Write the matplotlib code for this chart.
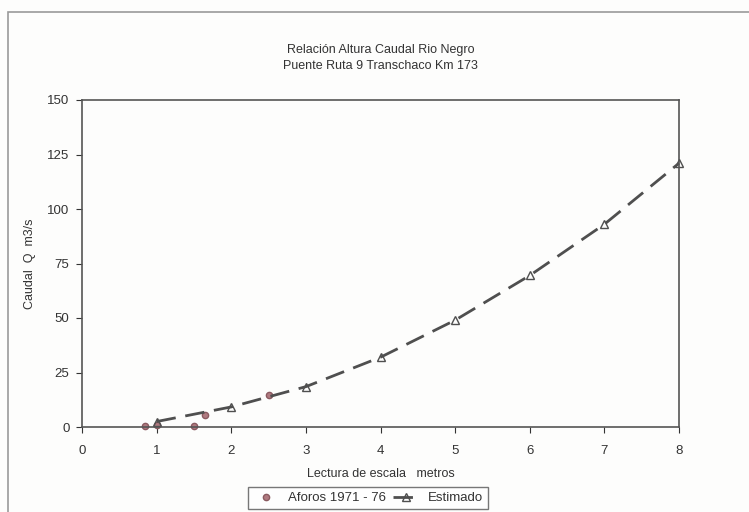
import matplotlib.pyplot as plt
from matplotlib.patches import Rectangle

# Data
aforos_x = [0.85, 1.0, 1.5, 1.65, 2.5]
aforos_q = [0.5, 0.7, 0.4, 5.5, 14.5]

est_x = [1, 2, 3, 4, 5, 6, 7, 8]
est_q = [2.5, 9.2, 18.5, 32, 49, 69.5, 93, 121]

x_ticks = [0, 1, 2, 3, 4, 5, 6, 7, 8]
y_ticks = [0, 25, 50, 75, 100, 125, 150]

plt.rcParams['font.family'] = ['Liberation Sans', 'DejaVu Sans']

fig = plt.figure(figsize=(7.49, 5.12), dpi=100)
fig.patch.set_facecolor('#fdfdfc')

# outer chart frame
fig.add_artist(Rectangle((8 / 749, -0.05), 1.0, 1 - 12 / 512 + 0.05,
                         transform=fig.transFigure, fill=False,
                         edgecolor='#9a9a9a', linewidth=1.2))

ax = fig.add_axes([82 / 749, 1 - 427 / 512, (679 - 82) / 749, (427 - 100) / 512])
ax.set_facecolor('#fdfdfc')

ax.plot(aforos_x, aforos_q, linestyle='none', marker='o', markersize=4.5,
        markerfacecolor='#b07a80', markeredgecolor='#8a5a60', label='Aforos 1971 - 76',
        clip_on=False)
ax.plot(est_x, est_q, linestyle=(0, (7, 3.5)), color='#4f4f4f', linewidth=2,
        marker='^', markersize=6, markerfacecolor='none', markeredgecolor='#4f4f4f',
        label='Estimado', clip_on=False)

ax.set_xlim(0, 8)
ax.set_ylim(0, 150)
ax.set_xticks(x_ticks)
ax.set_yticks(y_ticks)
ax.tick_params(labelsize=9.5, colors='#333333', direction='out', length=4)
ax.tick_params(axis='x', pad=9)
ax.tick_params(axis='y', pad=5)
for s in ax.spines.values():
    s.set_color('#555555')
    s.set_linewidth(1.2)

ax.set_xlabel('Lectura de escala   metros', fontsize=9, color='#333333', labelpad=8)
ax.set_ylabel('Caudal  Q  m3/s', fontsize=9, color='#333333', labelpad=8)
ax.set_title('Relación Altura Caudal Rio Negro\nPuente Ruta 9 Transchaco Km 173',
             fontsize=9, color='#333333', pad=22, linespacing=1.45)

leg = fig.legend(loc='center', bbox_to_anchor=(368 / 749, 1 - 498 / 512), ncol=2,
                 fontsize=9.5, frameon=True, fancybox=False, handlelength=2.0,
                 columnspacing=0.5, handletextpad=0.7, borderpad=0.35)
leg.get_frame().set_edgecolor('#555555')
leg.get_frame().set_linewidth(1.0)
for t in leg.get_texts():
    t.set_color('#333333')

fig.savefig('out.png', dpi=100, facecolor=fig.get_facecolor())
